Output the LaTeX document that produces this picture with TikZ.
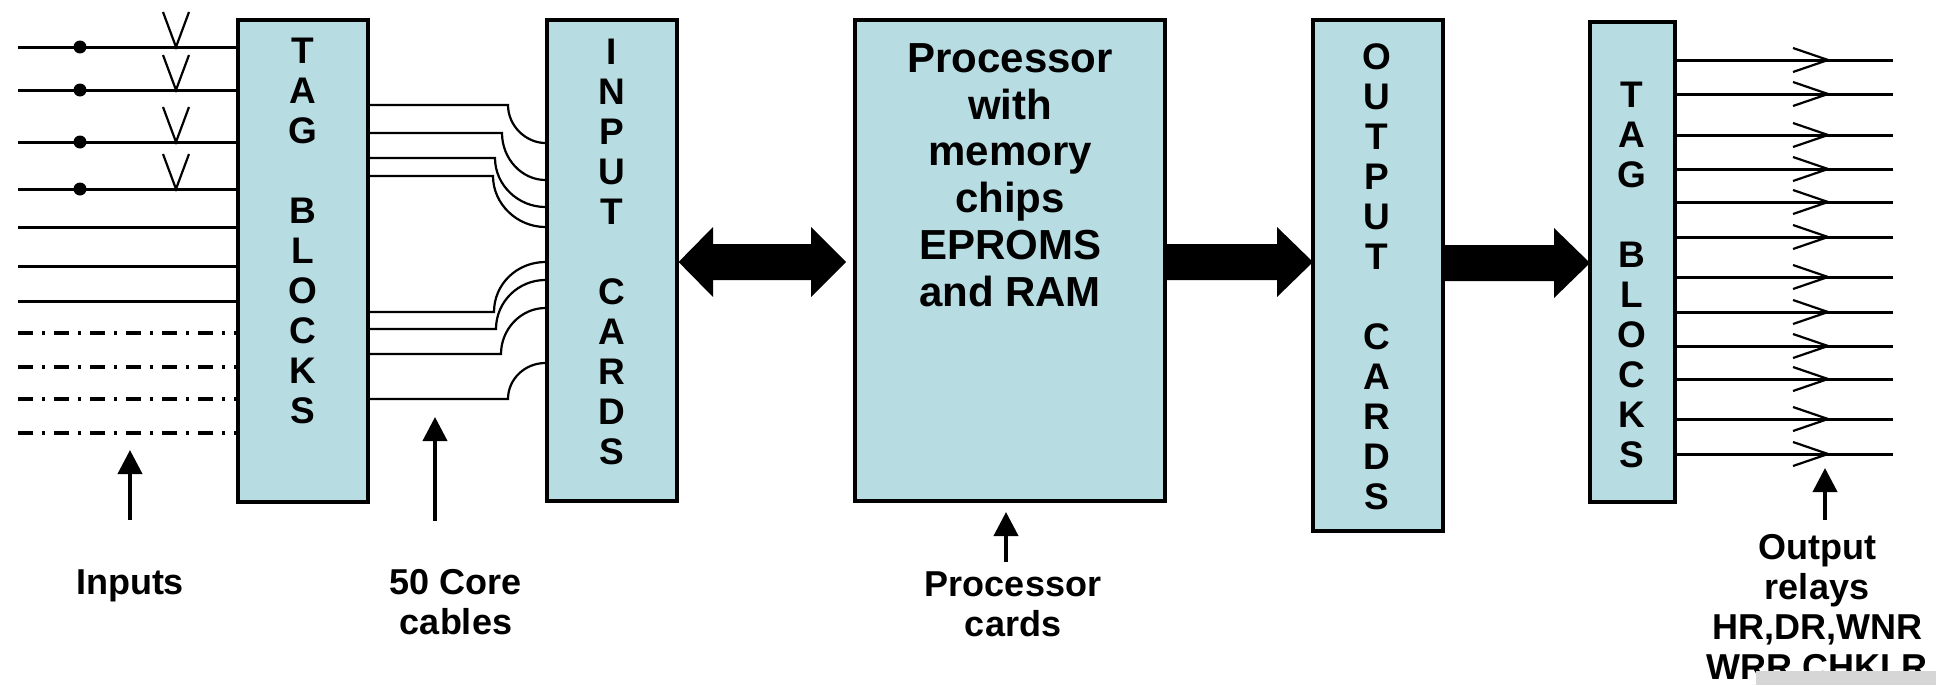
\documentclass[tikz,border=0pt]{standalone}
\usepackage{fontspec}
\setmainfont{Liberation Sans}
\usetikzlibrary{arrows.meta,calc}
\definecolor{cardfill}{RGB}{183,221,227}
\definecolor{patchgray}{RGB}{214,214,214}
% thick block arrow: tail x, tip x, axis y
\newcommand{\fatarrow}[3]{%
  \fill (#1,#3-18) -- (#2-36,#3-18) -- (#2-36,#3-35) -- (#2,#3)
        -- (#2-36,#3+35) -- (#2-36,#3+18) -- (#1,#3+18) -- cycle;}
\begin{document}
\begin{tikzpicture}[x=0.5pt,y=-0.5pt,
  card/.style={draw=black, line width=1.6pt, fill=cardfill, inner sep=0pt},
  vlet/.style={font=\fontsize{18.5}{20}\selectfont\bfseries, align=center, inner sep=0pt, anchor=north},
  wire/.style={line width=1.5pt},
  cable/.style={line width=1.1pt},
  chainline/.style={line width=1.6pt, dash pattern=on 7.5pt off 4.5pt on 1.5pt off 4.5pt},
  tick/.style={line width=1.1pt},
  callout/.style={line width=2pt, -{Triangle[length=12pt,width=12pt]}},
  lbl/.style={font=\fontsize{18}{20}\selectfont\bfseries, align=center, inner sep=0pt, anchor=north},
]
\fill[white] (0,0) rectangle (1936,685);
\useasboundingbox (0,0) rectangle (1936,685);

% ---- blocks ----
\node[card, minimum width=65pt,   minimum height=241pt]   (tagL) at (303,261)    {};
\node[card, minimum width=65pt,   minimum height=240.5pt] (inp)  at (612,260.5) {};
\node[card, minimum width=155pt,  minimum height=240.5pt] (proc) at (1010,260.5) {};
\node[card, minimum width=65pt,   minimum height=255.5pt] (outp) at (1378,275.5) {};
\node[card, minimum width=42.5pt, minimum height=240pt]   (tagR) at (1632.5,262) {};

\node[vlet] (tagLtext) at (303,37.75) {T\\A\\G\\[20pt]B\\L\\O\\C\\K\\S};
\node[vlet] (inptext)  at (612,38.75) {I\\N\\P\\U\\T\\[20pt]C\\A\\R\\D\\S};
\node[vlet] (outptext) at (1377,43.75) {O\\U\\T\\P\\U\\T\\[20pt]C\\A\\R\\D\\S};
\node[vlet] (tagRtext) at (1632,81.75) {T\\A\\G\\[20pt]B\\L\\O\\C\\K\\S};
\node[font=\fontsize{21}{23.4}\selectfont\bfseries, align=center, inner sep=0pt, anchor=north]
  (proctext) at (1010,43) {Processor\\with\\memory\\chips\\EPROMS\\and RAM};

% ---- field inputs ----
\foreach \y in {47,90,142,189,227,266,301}
  \draw[wire] (18,\y) -- (tagL.west |- 0,\y);
\foreach \y in {333,367,399,433}
  \draw[chainline] (18,\y) -- (tagL.west |- 0,\y);
\foreach \y in {47,90,142,189} {
  \fill (80,\y) circle[radius=6.5];
  \draw[tick] (163,\y-35) -- (176,\y) -- (189,\y-35);
}

% ---- 50 core cables ----
\draw[cable] (tagL.east |- 0,105) -- (508,105) .. controls (508,126) and (526,143) .. (inp.west |- 0,143);
\draw[cable] (tagL.east |- 0,133) -- (502,133) .. controls (502,159) and (522,180) .. (inp.west |- 0,180);
\draw[cable] (tagL.east |- 0,158) -- (495,158) .. controls (495,185) and (518,207) .. (inp.west |- 0,207);
\draw[cable] (tagL.east |- 0,176) -- (493,176) .. controls (493,204) and (517,227) .. (inp.west |- 0,227);
\draw[cable] (tagL.east |- 0,312) -- (494,312) .. controls (494,284) and (517,262) .. (inp.west |- 0,262);
\draw[cable] (tagL.east |- 0,329) -- (496,329) .. controls (496,302) and (518,280) .. (inp.west |- 0,280);
\draw[cable] (tagL.east |- 0,354) -- (501,354) .. controls (501,329) and (521,308) .. (inp.west |- 0,308);
\draw[cable] (tagL.east |- 0,399) -- (508,399) .. controls (508,379) and (525,363) .. (inp.west |- 0,363);

% ---- data paths ----
\fill (inp.east |- 0,262) -- (713,227) -- (713,244) -- (811,244) -- (811,227) -- (846,262)
      -- (811,297) -- (811,280) -- (713,280) -- (713,297) -- cycle;
\fatarrow{1165}{1313}{262}
\fatarrow{1443}{1590}{263}

% ---- relay outputs ----
\foreach \y in {60,94,135,169,202,237,277,312,346,379,419,454} {
  \draw[wire] (tagR.east |- 0,\y) -- (1893,\y);
  \draw[tick] (1793,\y-12) -- (1828,\y) -- (1793,\y+12);
}

% ---- captions ----
\node[lbl] (inLbl)   at (130,569)  {Inputs};
\node[lbl] (coreLbl) at (456,569)  {50 Core\\cables};
\node[lbl] (procLbl) at (1013,571) {Processor\\cards};
\node[lbl] (relLbl)  at (1817,534) {Output\\relays\\HR,DR,WNR\\WRR,CHKLR};

\coordinate (inTip)   at (130,450);
\coordinate (coreTip) at (435,417);
\coordinate (procTip) at (1006,512);
\coordinate (relTip)  at (1825,468);
\draw[callout] (inTip |- 0,520)   -- (inTip);
\draw[callout] (coreTip |- 0,521) -- (coreTip);
\draw[callout] (procTip |- 0,562) -- (procTip);
\draw[callout] (relTip |- 0,520)  -- (relTip);

\fill[patchgray] (1756,671) rectangle (1936,685);
\end{tikzpicture}
\end{document}
